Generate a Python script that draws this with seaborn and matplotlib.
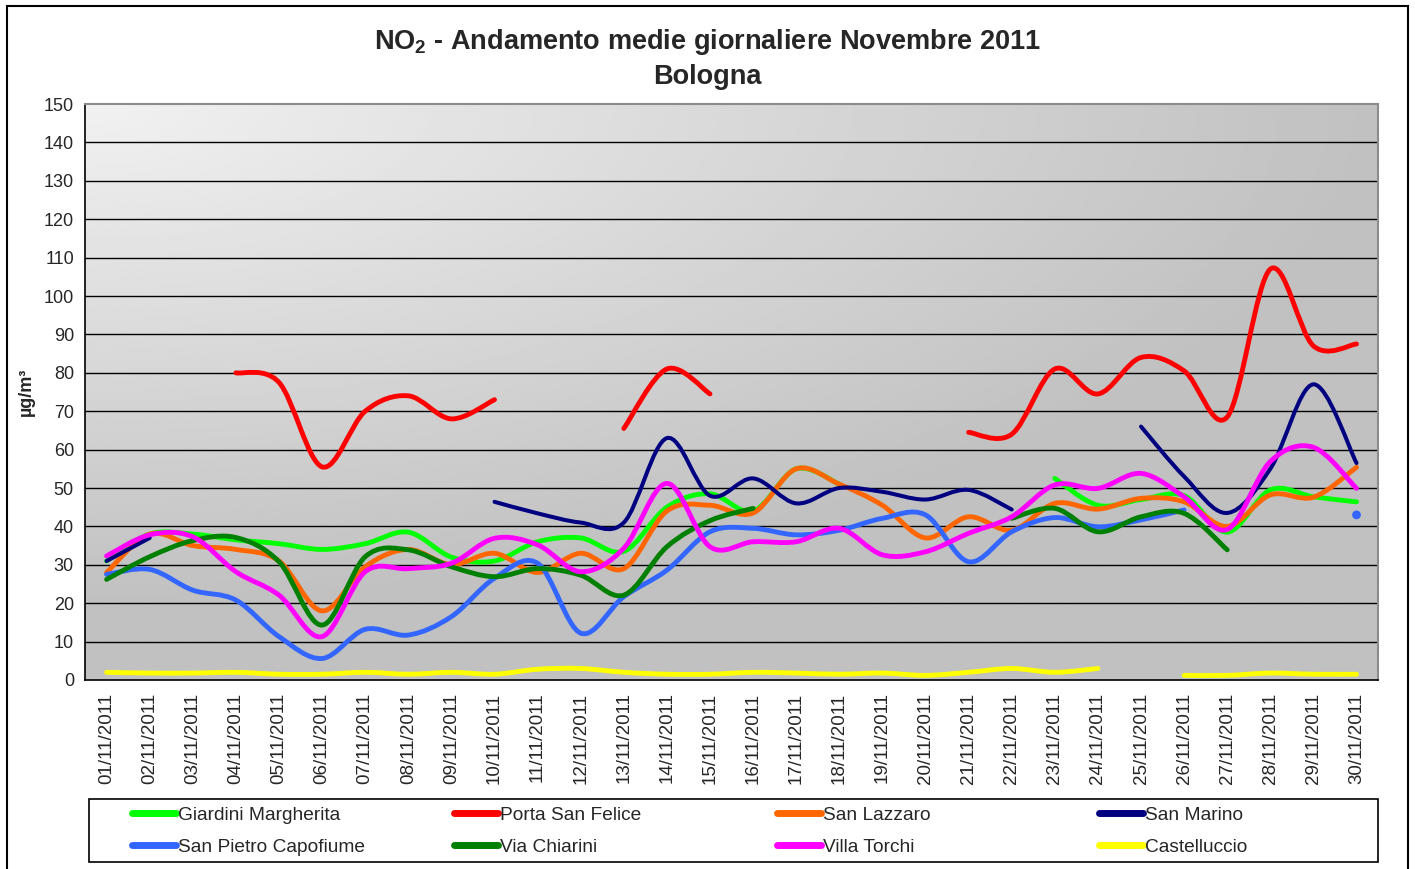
import numpy as np
import pandas as pd
import matplotlib
matplotlib.use("Agg")
import matplotlib.pyplot as plt
from matplotlib.path import Path
from matplotlib.patches import PathPatch, Rectangle
from matplotlib.lines import Line2D
import seaborn as sns

# --- Data ---
days = [f"{d:02d}/11/2011" for d in range(1, 31)]
nan = np.nan

giardini_margherita = [31, 38, 38, 36.5, 35.5, 34, 35.5, 38.5, 32, 31,
                       36, 37, 33.5, 45, 48.5, 44, 55, 51, nan, nan,
                       nan, nan, 52.5, 45.5, 47, 48, 38.5, 49.5, 47.7, 46.4]
porta_san_felice = [nan, nan, nan, 80, 77.5, 55.5, 70, 74, 68, 73,
                    nan, nan, 65.5, 81, 74.5, nan, nan, nan, nan, nan,
                    64.5, 64, 81, 74.5, 84, 80.5, 68.5, 107, 87, 87.5]
san_lazzaro = [28, 38, 35, 34, 31, 18, 29.5, 34, 30, 33,
               28, 33, 29, 44, 45.5, 43.5, 55, 51, 45.5, 37,
               42.5, 39, 46, 44.5, 47.3, 46.4, 40, 48.2, 47.6, 55.4]
san_marino = [31, 37, nan, nan, nan, nan, nan, nan, nan, 46.4,
              43.4, 41, 41, 63, 48, 52.5, 46, 50, 49, 47,
              49.5, 44.4, nan, nan, 66, 53, 43.5, 55, 77, 56.5]
san_pietro_capofiume = [27.5, 28.8, 23.4, 20.8, 11.3, 5.6, 13.2, 11.7, 16.5, 26.5,
                        30.4, 12.2, 21.7, 28.6, 38.6, 39.5, 37.8, 39, 42.1, 43,
                        30.8, 38.6, 42.3, 39.9, 41.7, 44.3, nan, nan, nan, 43]
via_chiarini = [26.2, 32.1, 36.3, 37.1, 30.8, 14.3, 32.1, 33.9, 29.5, 26.9,
                29, 27.3, 22.1, 34.7, 41.5, 44.7, nan, nan, nan, nan,
                nan, 42.1, 44.7, 38.6, 42.5, 43.4, 33.9, nan, nan, nan]
villa_torchi = [32.3, 37.8, 37.3, 28.2, 22.1, 11.3, 28.2, 29, 30.4, 36.9,
                35.2, 28.2, 34.3, 51.2, 34.7, 36, 36, 39.5, 32.6, 33.4,
                38.2, 42.5, 50.8, 49.9, 53.8, 47.7, 39.2, 56.9, 60.6, 49.9]
castelluccio = [2, 1.8, 1.8, 2, 1.5, 1.5, 2, 1.5, 2, 1.5,
                2.8, 3, 2, 1.5, 1.5, 2, 1.8, 1.5, 1.8, 1.2,
                2, 3, 2, 3, nan, 1.2, 1.2, 1.8, 1.5, 1.5]

stations = ["Giardini Margherita", "Porta San Felice", "San Lazzaro", "San Marino",
            "San Pietro Capofiume", "Via Chiarini", "Villa Torchi", "Castelluccio"]
values = [giardini_margherita, porta_san_felice, san_lazzaro, san_marino,
          san_pietro_capofiume, via_chiarini, villa_torchi, castelluccio]
colors = ["#00ff00", "#ff0000", "#ff6600", "#000080",
          "#3366ff", "#008000", "#ff00ff", "#ffff00"]

df = pd.DataFrame(dict(zip(stations, values)))
df["pos"] = np.arange(1, 31)

# --- Style ---
sns.set_style("white")
plt.rcParams["font.family"] = ["Liberation Sans", "DejaVu Sans"]
plt.rcParams["mathtext.fontset"] = "custom"
plt.rcParams["mathtext.bf"] = "Liberation Sans:bold"
plt.rcParams["mathtext.rm"] = "Liberation Sans"

fig = plt.figure(figsize=(14.15, 8.69), dpi=100)
ax = fig.add_axes([0.0601, 0.2175, 0.9138, 0.6628])

# gradient background of the plot area (light top-left, darker to the right/bottom)
gx, gy = np.meshgrid(np.linspace(0, 1, 300), np.linspace(0, 1, 200))
grad = 0.945 - 0.19 * np.minimum(1, np.sqrt(gx ** 2 + (1.15 * gy) ** 2))
ax.imshow(grad, cmap="gray", vmin=0, vmax=1, extent=[0, 1, 0, 1], origin="upper",
          transform=ax.transAxes, aspect="auto", zorder=0, interpolation="bilinear")


def smooth_path(x, y):
    # Bezier segments through the points, like the spreadsheet "smoothed line"
    verts = [(x[0], y[0])]
    codes = [Path.MOVETO]
    n = len(x)
    for i in range(n - 1):
        x0, y0 = (x[i - 1], y[i - 1]) if i > 0 else (x[i], y[i])
        x3, y3 = (x[i + 2], y[i + 2]) if i + 2 < n else (x[i + 1], y[i + 1])
        c1 = (x[i] + (x[i + 1] - x0) / 6, y[i] + (y[i + 1] - y0) / 6)
        c2 = (x[i + 1] - (x3 - x[i]) / 6, y[i + 1] - (y3 - y[i]) / 6)
        verts += [c1, c2, (x[i + 1], y[i + 1])]
        codes += [Path.CURVE4] * 3
    return Path(verts, codes)


for name, col in zip(stations, colors):
    s = df[name]
    grp = s.isna().cumsum()
    for _, part in df[s.notna()].groupby(grp[s.notna()]):
        xs = part["pos"].to_numpy(float)
        ys = part[name].to_numpy(float)
        if len(xs) == 1:
            sns.scatterplot(x=xs, y=ys, color=col, s=40, edgecolor="none", ax=ax, zorder=4)
        else:
            lw = 2.9 if name == "San Marino" else 3.5
            ax.add_patch(PathPatch(smooth_path(xs, ys), facecolor="none", edgecolor=col,
                                   lw=lw, capstyle="round", joinstyle="round", zorder=3))

# axes
ax.set_xlim(0.5, 30.5)
ax.set_ylim(0, 150)
ax.set_yticks(range(0, 151, 10))
ax.set_yticklabels([str(v) for v in range(0, 151, 10)], fontsize=13)
ax.set_xticks(range(1, 31))
ax.set_xticklabels(days, rotation=90, fontsize=13.5)
ax.set_xticks(np.arange(0.5, 31, 1), minor=True)
ax.tick_params(axis="x", which="major", length=0, pad=9)
ax.tick_params(axis="x", which="minor", length=6, color="#555555", direction="out")
ax.tick_params(axis="y", length=5, color="#333333", direction="out", pad=3)
for v in range(10, 150, 10):
    ax.axhline(v, color="black", lw=1.0, zorder=1)
for side in ["left", "bottom"]:
    ax.spines[side].set_color("black")
    ax.spines[side].set_linewidth(1.2)
for side in ["top", "right"]:
    ax.spines[side].set_color("#8c8c8c")
    ax.spines[side].set_linewidth(1.5)

ax.set_ylabel("µg/m³", fontsize=13, fontweight="bold", labelpad=6)
fig.text(0.5, 0.952, r"NO$_\mathbf{2}$ - Andamento medie giornaliere Novembre 2011",
         ha="center", va="center", fontsize=19.5, fontweight="bold")
fig.text(0.5, 0.911, "Bologna", ha="center", va="center", fontsize=19.5, fontweight="bold")

# legend: box plus four one-column legends, laid out row-wise as in the original
fig.patches.append(Rectangle((89 / 1415, 7 / 869), 1289 / 1415, 63 / 869,
                             transform=fig.transFigure, fill=False,
                             edgecolor="black", lw=1.2))
handles = [Line2D([], [], color=c, lw=5, solid_capstyle="round") for c in colors]
col_x = [132, 454, 777, 1099]
for k, x0 in enumerate(col_x):
    idx = [k, k + 4]
    fig.legend([handles[i] for i in idx], [stations[i] for i in idx],
               loc="center left", bbox_to_anchor=(x0 / 1415, 38 / 869),
               fontsize=13.8, frameon=False, handlelength=2.3, handletextpad=0.1,
               borderaxespad=0, borderpad=0, labelspacing=0.75)

# outer chart border
fig.patches.append(Rectangle((0.005, -0.01), 0.99, 1.003, transform=fig.transFigure,
                             fill=False, edgecolor="black", lw=1.5))

fig.savefig("out.png", dpi=100)
